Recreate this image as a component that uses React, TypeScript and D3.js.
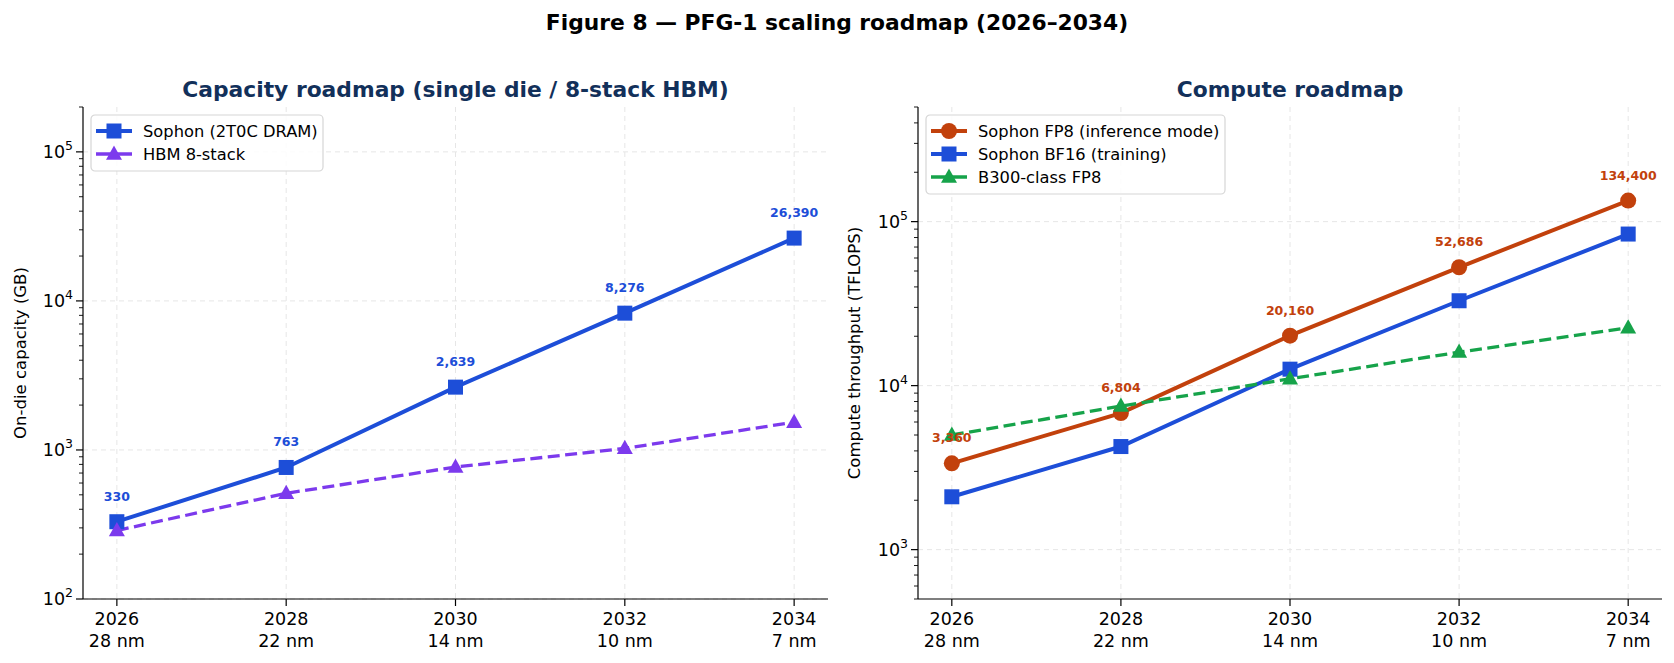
import * as d3 from 'd3';
import React from 'react';

// Data
const years = [2026, 2028, 2030, 2032, 2034];
const nodes = ['28 nm', '22 nm', '14 nm', '10 nm', '7 nm'];

const sophonCapacity = [330, 763, 2639, 8276, 26390];
const hbmCapacity = [288, 512, 768, 1024, 1536];

const sophonFP8 = [3360, 6804, 20160, 52686, 134400];
const sophonBF16 = [2100, 4252, 12600, 32929, 84000];
const b300FP8 = [5000, 7500, 11000, 16000, 22500];

const FONT = 'DejaVu Sans, sans-serif';
const NAVY = '#12305a';

type Series = {
  name: string;
  values: number[];
  color: string;
  marker: 'square' | 'circle' | 'triangle';
  dashed: boolean;
  annotate: boolean;
};

const capacitySeries: Series[] = [
  { name: 'Sophon (2T0C DRAM)', values: sophonCapacity, color: '#1d4ed8', marker: 'square', dashed: false, annotate: true },
  { name: 'HBM 8-stack', values: hbmCapacity, color: '#7c3aed', marker: 'triangle', dashed: true, annotate: false },
];

const computeSeries: Series[] = [
  { name: 'Sophon FP8 (inference mode)', values: sophonFP8, color: '#c2410c', marker: 'circle', dashed: false, annotate: true },
  { name: 'Sophon BF16 (training)', values: sophonBF16, color: '#1d4ed8', marker: 'square', dashed: false, annotate: false },
  { name: 'B300-class FP8', values: b300FP8, color: '#16a34a', marker: 'triangle', dashed: true, annotate: false },
];

function Marker({ kind, x, y, color, size = 15 }: { kind: string; x: number; y: number; color: string; size?: number }) {
  if (kind === 'square') {
    return <rect x={x - size / 2} y={y - size / 2} width={size} height={size} fill={color} />;
  }
  if (kind === 'circle') {
    return <circle cx={x} cy={y} r={size / 2 + 0.5} fill={color} />;
  }
  const h = size * 0.95;
  return (
    <path
      d={`M${x},${y - h * 0.6} L${x + size / 2 + 0.5},${y + h * 0.4} L${x - size / 2 - 0.5},${y + h * 0.4} Z`}
      fill={color}
    />
  );
}

type PanelProps = {
  left: number;
  right: number;
  top: number;
  bottom: number;
  yDomain: [number, number];
  title: string;
  yLabel: string;
  yLabelX: number;
  series: Series[];
  legendWidth: number;
};

function Panel({ left, right, top, bottom, yDomain, title, yLabel, yLabelX, series, legendWidth }: PanelProps) {
  const x = d3.scaleLinear().domain([2025.6, 2034.4]).range([left, right]);
  const y = d3.scaleLog().domain(yDomain).range([bottom, top]);

  const lo = Math.floor(Math.log10(yDomain[0]));
  const hi = Math.ceil(Math.log10(yDomain[1]));
  const majors: number[] = [];
  const minors: number[] = [];
  for (let e = lo; e <= hi; e++) {
    const base = Math.pow(10, e);
    if (base >= yDomain[0] && base <= yDomain[1]) majors.push(e);
    for (let m = 2; m <= 9; m++) {
      const v = m * base;
      if (v >= yDomain[0] && v <= yDomain[1]) minors.push(v);
    }
  }

  const line = d3
    .line<number>()
    .x((_, i) => x(years[i]))
    .y((d) => y(d));

  const legendRow = 23;
  const legendH = series.length * legendRow + 10;

  return (
    <g>
      {/* grid */}
      {years.map((yr) => (
        <line key={`gx${yr}`} x1={x(yr)} x2={x(yr)} y1={top} y2={bottom} stroke="#e6e6e6" strokeWidth={1} strokeDasharray="5,4" />
      ))}
      {majors.map((e) => (
        <line key={`gy${e}`} x1={left} x2={right} y1={y(Math.pow(10, e))} y2={y(Math.pow(10, e))} stroke="#e6e6e6" strokeWidth={1} strokeDasharray="5,4" />
      ))}

      {/* lines */}
      {series.map((s) => (
        <path
          key={s.name}
          d={line(s.values) || ''}
          fill="none"
          stroke={s.color}
          strokeWidth={s.dashed ? 3.3 : 4}
          strokeDasharray={s.dashed ? '12,5.5' : undefined}
        />
      ))}
      {series.map((s) =>
        s.values.map((v, i) => <Marker key={`${s.name}${i}`} kind={s.marker} x={x(years[i])} y={y(v)} color={s.color} />)
      )}
      {series
        .filter((s) => s.annotate)
        .map((s) =>
          s.values.map((v, i) => (
            <text
              key={`a${s.name}${i}`}
              x={x(years[i])}
              y={y(v) - 21}
              textAnchor="middle"
              fontFamily={FONT}
              fontWeight="bold"
              fontSize={12.5}
              fill={s.color}
            >
              {d3.format(',')(v)}
            </text>
          ))
        )}

      {/* axes */}
      <line x1={left} x2={left} y1={top} y2={bottom} stroke="#000" strokeWidth={1.2} />
      <line x1={left} x2={right} y1={bottom} y2={bottom} stroke="#000" strokeWidth={1.2} />
      {majors.map((e) => (
        <g key={`ty${e}`}>
          <line x1={left - 7} x2={left} y1={y(Math.pow(10, e))} y2={y(Math.pow(10, e))} stroke="#000" strokeWidth={1.2} />
          <text x={left - 10} y={y(Math.pow(10, e)) + 6} textAnchor="end" fontFamily={FONT} fontSize={17.5} fill="#000">
            10<tspan dy={-8} fontSize={12.5}>{e}</tspan>
          </text>
        </g>
      ))}
      {minors.map((v) => (
        <line key={`m${v}`} x1={left - 4} x2={left} y1={y(v)} y2={y(v)} stroke="#000" strokeWidth={0.9} />
      ))}
      {years.map((yr, i) => (
        <g key={`tx${yr}`}>
          <line x1={x(yr)} x2={x(yr)} y1={bottom} y2={bottom + 7} stroke="#000" strokeWidth={1.2} />
          <text x={x(yr)} y={bottom + 26} textAnchor="middle" fontFamily={FONT} fontSize={17.5} fill="#000">
            {yr}
          </text>
          <text x={x(yr)} y={bottom + 48} textAnchor="middle" fontFamily={FONT} fontSize={17.5} fill="#000">
            {nodes[i]}
          </text>
        </g>
      ))}

      {/* labels */}
      <text
        transform={`translate(${yLabelX},${(top + bottom) / 2}) rotate(-90)`}
        textAnchor="middle"
        fontFamily={FONT}
        fontSize={16.5}
        fill="#000"
      >
        {yLabel}
      </text>
      <text x={(left + right) / 2} y={97} textAnchor="middle" fontFamily={FONT} fontWeight="bold" fontSize={21.8} fill={NAVY}>
        {title}
      </text>

      {/* legend */}
      <g transform={`translate(${left + 8},${top + 8})`}>
        <rect x={0} y={0} width={legendWidth} height={legendH} rx={4} fill="#fff" fillOpacity={0.85} stroke="#d6d6d6" strokeWidth={1.2} />
        {series.map((s, i) => {
          const cy = 16 + i * legendRow;
          return (
            <g key={`l${s.name}`}>
              <line x1={5} x2={41} y1={cy} y2={cy} stroke={s.color} strokeWidth={s.dashed ? 3.3 : 4} />
              <Marker kind={s.marker} x={23} y={cy} color={s.color} />
              <text x={52} y={cy + 5.5} fontFamily={FONT} fontSize={16.3} fill="#000">
                {s.name}
              </text>
            </g>
          );
        })}
      </g>
    </g>
  );
}

export default function App() {
  const width = 1674;
  const height = 663;
  return (
    <div style={{ position: 'absolute', left: 0, top: 0 }}>
      <svg width={width} height={height} style={{ display: 'block', background: '#fff' }}>
        <text x={width / 2} y={30} textAnchor="middle" fontFamily={FONT} fontWeight="bold" fontSize={21.8} fill="#000">
          Figure 8 — PFG-1 scaling roadmap (2026–2034)
        </text>
        <Panel
          left={83}
          right={828}
          top={107}
          bottom={599}
          yDomain={[100, 2e5]}
          title="Capacity roadmap (single die / 8-stack HBM)"
          yLabel="On-die capacity (GB)"
          yLabelX={26}
          series={capacitySeries}
          legendWidth={232}
        />
        <Panel
          left={918}
          right={1662}
          top={107}
          bottom={599}
          yDomain={[500, 5e5]}
          title="Compute roadmap"
          yLabel="Compute throughput (TFLOPS)"
          yLabelX={860}
          series={computeSeries}
          legendWidth={299}
        />
      </svg>
    </div>
  );
}
